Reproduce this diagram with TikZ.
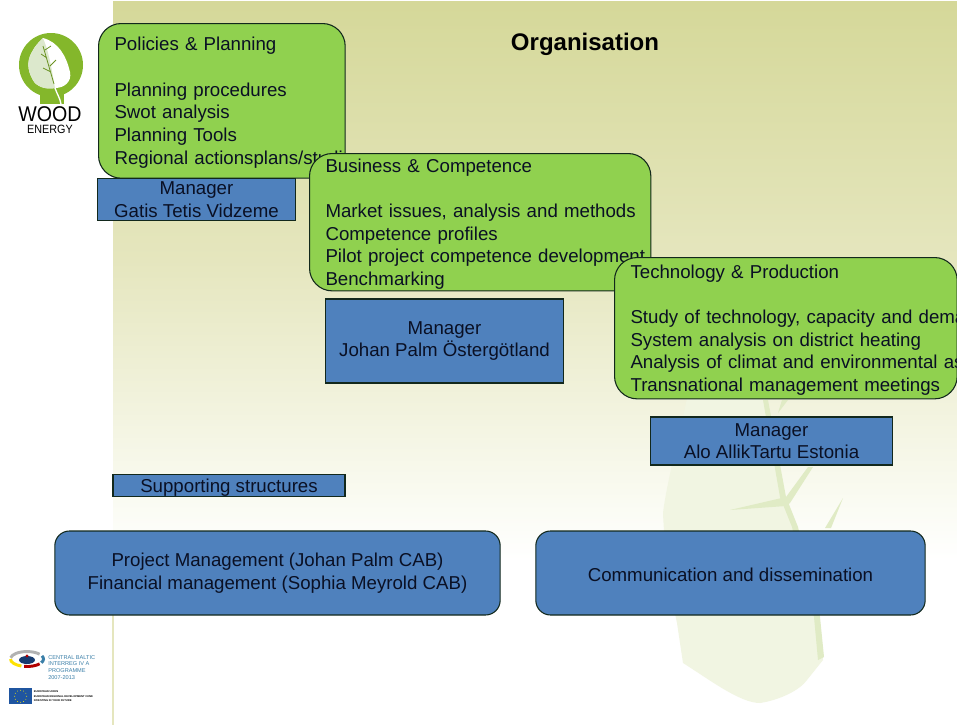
\documentclass[tikz,border=0pt]{standalone}
\usepackage{xcolor}
\usepackage{fontspec}
\setmainfont{Liberation Sans}
\usepackage{tikz}
\usetikzlibrary{positioning}
\definecolor{boxgreen}{HTML}{90D14F}
\definecolor{boxblue}{HTML}{4F81BD}
\definecolor{boxline}{HTML}{12281C}
\definecolor{boxtext}{HTML}{0A1024}
\definecolor{slideolive}{HTML}{D5D899}
\definecolor{slidemid}{HTML}{E5E6BE}
\definecolor{slidelow}{HTML}{FAFBF2}
\definecolor{leafpale}{HTML}{F1F5E2}
\definecolor{leafstem}{HTML}{E0EBC5}
\definecolor{logogreen}{HTML}{84B72B}
\definecolor{logopale}{HTML}{DCE8CC}
\definecolor{logoblue}{HTML}{3A7FA8}
\definecolor{flagblue}{HTML}{1F55A0}
\tikzset{
	topicbox/.style={draw=boxline, line width=0.8pt, fill=boxgreen, rounded corners=17pt, anchor=north west,
		inner xsep=12pt, inner ysep=0pt, align=left, text=boxtext, font=\fontsize{14}{17}\selectfont,
		execute at begin node={\rule{0pt}{13pt}}},
	managerbox/.style={draw=boxline, line width=0.8pt, fill=boxblue, anchor=center, inner sep=0pt, align=center,
		text=boxtext, font=\fontsize{14}{17}\selectfont, execute at begin node={\rule{0pt}{13pt}}},
	staffbox/.style={managerbox, rounded corners=11pt}
}
\begin{document}
\begin{tikzpicture}[x=0.75pt, y=-0.75pt]
	\useasboundingbox (0,0) rectangle (960,728);
	% slide background
	\fill[white] (0,0) rectangle (960,728);
	\shade[top color=slideolive, bottom color=slidemid] (113,1) rectangle (957,260);
	\shade[top color=slidemid, bottom color=slidelow] (113,260) rectangle (957,500);
	\shade[top color=slidelow, bottom color=white] (113,500) rectangle (957,560);
	\draw[slidemid, line width=0.8pt] (113,560) -- (113,725);
	% faint leaf
	\fill[leafpale] (705,300) .. controls (695,380) and (668,470) .. (663,513) .. controls (665,560) and (672,600) .. (677,623)
		-- (683,663) .. controls (710,680) and (740,703) .. (760,703) .. controls (780,700) and (800,690) .. (807,680)
		-- (823,660) -- (817,617) -- (795,527) -- (783,497) -- (765,400) -- (760,300) -- cycle;
	\fill[leafstem] (763,400) -- (768,400) -- (786,497) -- (798,527) -- (820,617) -- (824,657) -- (818,660) -- (814,617) -- (792,527) -- (780,497) -- cycle;
	\fill[leafstem] (813,467) -- (808,467) -- (786,497) -- (730,510) -- (786,506) -- (790,503) -- cycle;
	\fill[leafstem] (843,498) -- (825,528) -- (831,528) -- cycle;
	\fill[leafstem] (788,400) -- (782,400) -- (778,413) -- cycle;
	% logo
	\fill[logogreen] (51,65) circle (24pt);
	\fill[logogreen] (40,90) rectangle (64,104);
	\fill[white] (43,38) .. controls (58,42) and (66,55) .. (70,72) .. controls (72,82) and (64,88) .. (55,88)
		.. controls (45,90) and (36,86) .. (33,80) .. controls (27,70) and (27,60) .. (32,52) .. controls (35,46) and (39,42) .. (43,38) -- cycle;
	\fill[logopale] (43,38) .. controls (50,55) and (52,72) .. (55,88) .. controls (45,90) and (36,86) .. (33,80)
		.. controls (27,70) and (27,60) .. (32,52) .. controls (35,46) and (39,42) .. (43,38) -- cycle;
	\draw[white, line width=1pt] (55,88) .. controls (57,94) and (60,98) .. (61,104);
	\draw[logogreen!80!black, line width=0.6pt] (43,46) -- (54,84) (45,50) -- (51,46) (47,58) -- (41,54) (50,66) -- (56,60) (51,72) -- (43,68);
	\node[font=\fontsize{16}{16}\selectfont, inner sep=0pt, xscale=0.92] (woodname) at (50,114) {WOOD};
	\node[font=\fontsize{9}{9}\selectfont, inner sep=0pt, xscale=0.9] (energyname) at (50,129) {ENERGY};
	% title
	\node[font=\bfseries\fontsize{18}{20}\selectfont, inner sep=0pt] (title) at (585,44) {Organisation};
	% topics
	\node[topicbox, text width=161pt, minimum height=116pt] (policies) at (98,23) {Policies \& Planning\\[17pt]Planning procedures\\Swot analysis\\Planning Tools\\\mbox{Regional actionsplans/studies}};
	\node[managerbox, minimum width=148pt, minimum height=32pt] (managerA) at (196.5,199.5) {Manager\\Gatis Tetis Vidzeme};
	\node[topicbox, text width=232pt, minimum height=103pt] (business) at (309,153) {Business \& Competence\\[17pt]\mbox{Market issues, analysis and methods}\\Competence profiles\\\mbox{Pilot project competence development}\\Benchmarking};
	\node[managerbox, minimum width=178pt, minimum height=63pt] (managerB) at (444.5,341) {Manager\\Johan Palm Östergötland};
	\node[topicbox, text width=233pt, minimum height=106pt] (technology) at (614,257) {Technology \& Production\\[17pt]\mbox{Study of technology, capacity and demand}\\System analysis on district heating\\\mbox{Analysis of climat and environmental aspects}\\Transnational management meetings};
	\node[managerbox, minimum width=181pt, minimum height=36pt] (managerC) at (771.5,441) {Manager\\Alo AllikTartu Estonia};
	% supporting structures
	\node[managerbox, minimum width=174pt, minimum height=17pt] (support) at (229,485.5) {Supporting structures};
	\node[staffbox, minimum width=334pt, minimum height=63pt] (project) at (277.5,573) {Project Management (Johan Palm CAB)\\Financial management (Sophia Meyrold CAB)};
	\node[staffbox, minimum width=292pt, minimum height=63pt] (communication) at (730.5,573) {Communication and dissemination};
	% slide edge
	\fill[white] (957,0) rectangle (960,728);
	% funding logos
	\draw[line width=2.2pt, yellow!85!orange] (10.5,659) arc[start angle=180, end angle=250, x radius=12.4pt, y radius=5.6pt];
	\draw[line width=2.2pt, red!70!black] (24.1,666.4) arc[start angle=260, end angle=320, x radius=12.4pt, y radius=5.6pt];
	\draw[line width=2.2pt, logoblue] (41.3,662.75) arc[start angle=330, end angle=385, x radius=12.4pt, y radius=5.6pt];
	\draw[line width=2.2pt, gray!60] (39.6,654.2) arc[start angle=40, end angle=170, x radius=12.4pt, y radius=5.6pt];
	\fill[flagblue!70!black] (27,660) ellipse (6pt and 3pt);
	\fill[red!70!black] (27,656) circle (1.2pt);
	\node[font=\fontsize{4.2}{5}\selectfont, text=logoblue, align=left, inner sep=0pt, anchor=north west] (interreg) at (48,655) {CENTRAL BALTIC\\INTERREG IV A\\PROGRAMME\\2007-2013};
	\node[fill=flagblue, minimum width=17pt, minimum height=12pt, inner sep=0pt, anchor=north west] (euflag) at (9,688) {};
	\foreach \k in {0,30,...,330}
		\fill[yellow] (euflag.center) ++(\k:4.5pt) circle (0.35pt);
	\node[font=\bfseries\fontsize{2}{3.2}\selectfont, align=left, inner sep=0pt, right=1pt of euflag] (eutext) {EUROPEAN UNION\\EUROPEAN REGIONAL DEVELOPMENT FUND\\INVESTING IN YOUR FUTURE};
\end{tikzpicture}
\end{document}
